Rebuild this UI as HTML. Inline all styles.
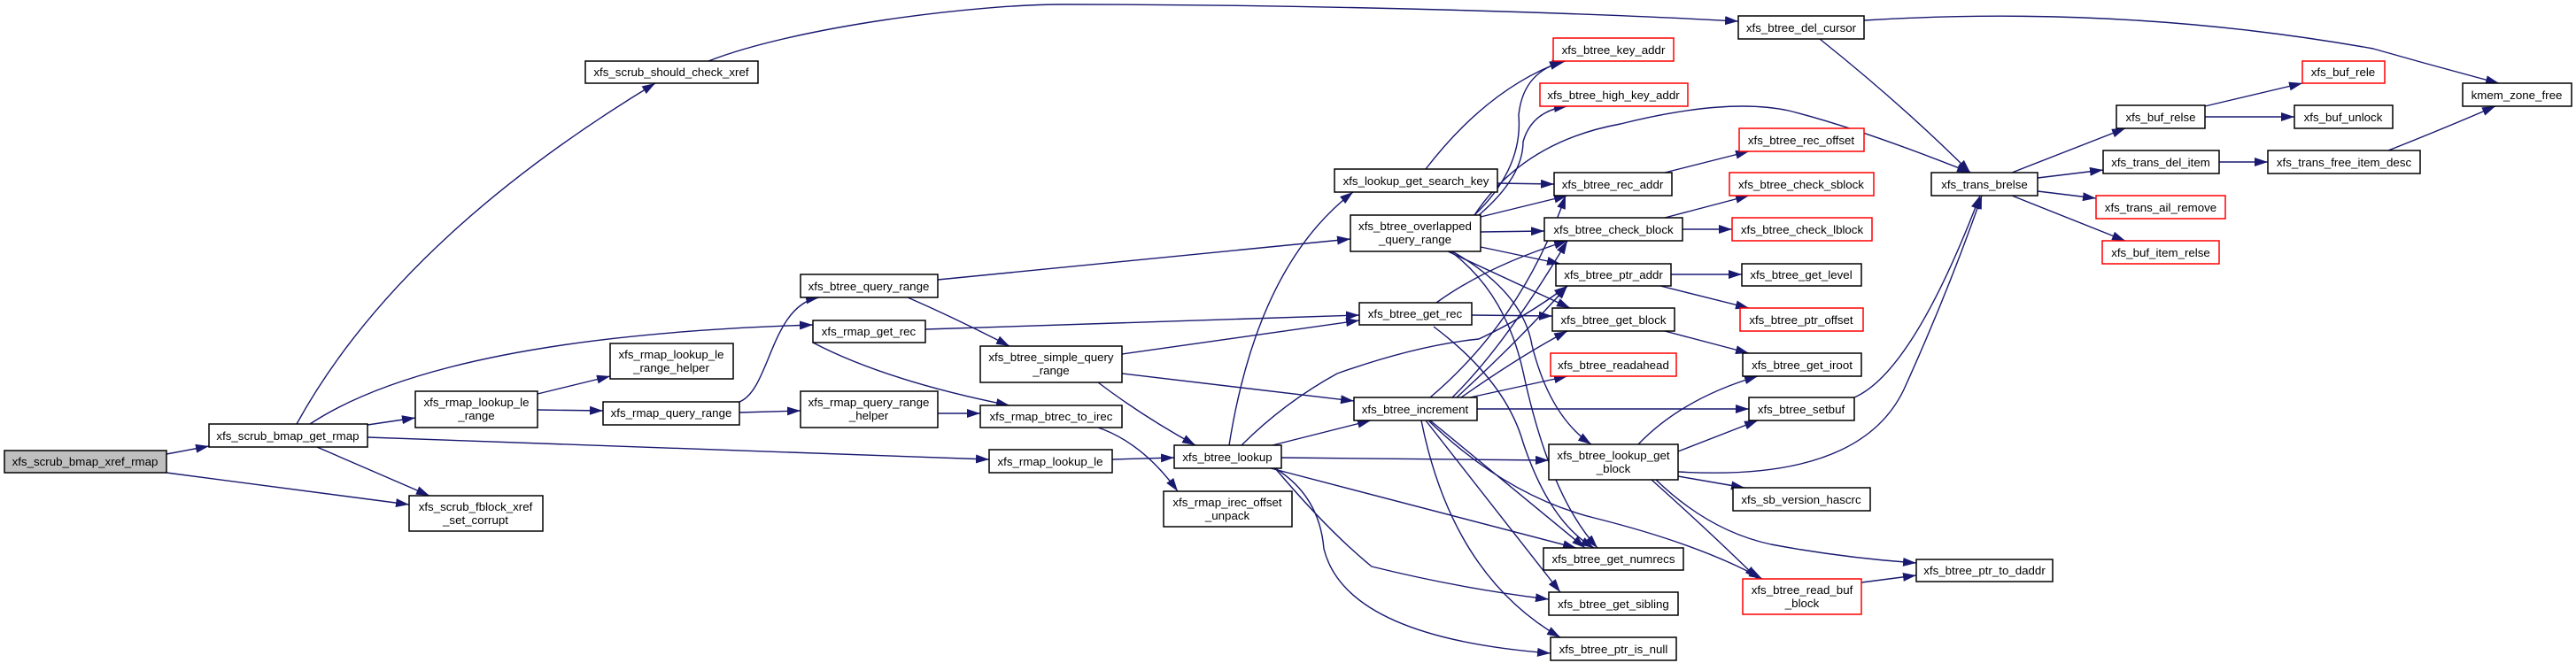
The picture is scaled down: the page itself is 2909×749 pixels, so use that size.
<!DOCTYPE html>
<html><head><meta charset="utf-8"><style>
html,body{margin:0;padding:0;background:#fff;}
svg{display:block}
text{font-family:"Liberation Sans",Arial,sans-serif;font-size:13.3px;fill:#000;text-anchor:middle}
.b{fill:#fff;stroke:#000;stroke-width:1.5}
.r{fill:#fff;stroke:#ff0000;stroke-width:1.5}
.g{fill:#bfbfbf;stroke:#000;stroke-width:1.5}
path.e{fill:none;stroke:#191970;stroke-width:1.4;marker-end:url(#a)}
</style></head><body>
<svg width="2909" height="749" viewBox="0 0 2909 749" xmlns="http://www.w3.org/2000/svg">
<defs><marker id="a" markerUnits="userSpaceOnUse" markerWidth="15" markerHeight="10" refX="15" refY="5" orient="auto"><path d="M0,0 L15,5 L0,10 z" fill="#191970"/></marker></defs>
<g>
<path class="e" d="M188,513 L236,504"/>
<path class="e" d="M188,534 L462,570"/>
<path class="e" d="M335,479 Q450,270 740,94"/>
<path class="e" d="M350,479 Q500,380 918,367"/>
<path class="e" d="M415,480 L469,472"/>
<path class="e" d="M415,494 L1117,519"/>
<path class="e" d="M358,505 L485,560"/>
<path class="e" d="M800,69 C900,30 1100,5 1200,5 C1500,5 1800,15 1963,24"/>
<path class="e" d="M607,445 L689,425"/>
<path class="e" d="M607,463 L681,464"/>
<path class="e" d="M835,454 C870,440 870,345 925,336"/>
<path class="e" d="M835,466 L904,464"/>
<path class="e" d="M1059,316 L1525,270"/>
<path class="e" d="M1025,336 Q1080,360 1140,391"/>
<path class="e" d="M1045,372 L1535,356"/>
<path class="e" d="M918,387 Q1000,430 1140,458"/>
<path class="e" d="M1059,467 L1107,467"/>
<path class="e" d="M1256,519 L1326,517"/>
<path class="e" d="M1267,400 L1535,362"/>
<path class="e" d="M1267,422 L1529,453"/>
<path class="e" d="M1240,432 Q1290,470 1350,503"/>
<path class="e" d="M1240,483 Q1290,500 1330,555"/>
<path class="e" d="M1388,503 Q1420,300 1528,217"/>
<path class="e" d="M1437,503 L1548,475"/>
<path class="e" d="M1447,517 L1749,520"/>
<path class="e" d="M1435,529 L1780,619"/>
<path class="e" d="M1440,529 Q1500,600 1549,640 Q1650,665 1749,677"/>
<path class="e" d="M1440,529 Q1490,560 1495,620 Q1520,720 1751,738"/>
<path class="e" d="M1402,503 Q1450,455 1510,422 Q1600,390 1670,383 Q1720,360 1770,323"/>
<path class="e" d="M1610,191 Q1680,100 1765,69"/>
<path class="e" d="M1691,207 L1755,208"/>
<path class="e" d="M1665,243 Q1720,190 1715,130 Q1720,80 1768,69"/>
<path class="e" d="M1670,243 Q1720,200 1720,160 Q1730,125 1770,120"/>
<path class="e" d="M1672,245 L1770,221"/>
<path class="e" d="M1672,262 L1744,261"/>
<path class="e" d="M1672,279 L1762,298"/>
<path class="e" d="M1635,284 L1773,348"/>
<path class="e" d="M1640,284 Q1720,330 1730,390 Q1750,470 1797,502"/>
<path class="e" d="M1638,284 Q1700,330 1720,420 Q1750,560 1804,619"/>
<path class="e" d="M1665,243 Q1720,160 1830,140 Q1950,110 2020,125 Q2100,145 2225,195"/>
<path class="e" d="M1622,342 Q1680,300 1770,272"/>
<path class="e" d="M1662,356 L1753,357"/>
<path class="e" d="M1619,369 Q1700,430 1720,500 Q1750,590 1800,619"/>
<path class="e" d="M1615,449 Q1720,360 1768,221"/>
<path class="e" d="M1640,449 Q1700,390 1770,272"/>
<path class="e" d="M1645,449 Q1720,380 1770,323"/>
<path class="e" d="M1650,449 Q1720,400 1770,374"/>
<path class="e" d="M1660,449 L1770,425"/>
<path class="e" d="M1668,462 L1975,462"/>
<path class="e" d="M1615,475 L1790,619"/>
<path class="e" d="M1610,475 L1762,669"/>
<path class="e" d="M1605,475 Q1640,650 1762,720"/>
<path class="e" d="M1612,474 Q1700,560 1800,585 Q1920,615 1990,654"/>
<path class="e" d="M1850,502 Q1900,450 1985,425"/>
<path class="e" d="M1895,510 L1985,475"/>
<path class="e" d="M1895,538 L1970,551"/>
<path class="e" d="M1865,542 Q1930,600 1985,654"/>
<path class="e" d="M1870,542 Q1930,600 2000,615 Q2080,630 2164,636"/>
<path class="e" d="M1895,533 Q2100,545 2150,440 Q2200,330 2238,221"/>
<path class="e" d="M1887,310 L1967,310"/>
<path class="e" d="M1875,323 L1975,348"/>
<path class="e" d="M1880,195 L1975,171"/>
<path class="e" d="M1880,246 L1975,221"/>
<path class="e" d="M1900,259 L1956,259"/>
<path class="e" d="M1880,374 L1975,399"/>
<path class="e" d="M2094,449 Q2160,420 2236,221"/>
<path class="e" d="M2102,658 L2164,650"/>
<path class="e" d="M2055,44 Q2150,120 2225,195"/>
<path class="e" d="M2105,23 Q2400,5 2680,55 Q2750,75 2822,94"/>
<path class="e" d="M2272,195 L2400,145"/>
<path class="e" d="M2301,201 L2375,192"/>
<path class="e" d="M2301,216 L2367,224"/>
<path class="e" d="M2272,221 L2400,272"/>
<path class="e" d="M2490,120 L2600,94"/>
<path class="e" d="M2490,132 L2591,132"/>
<path class="e" d="M2506,183 L2561,183"/>
<path class="e" d="M2697,170 Q2760,145 2818,120"/>
</g>
<g>
<rect class="g" x="5" y="509" width="183" height="25"/><text x="96" y="526">xfs_scrub_bmap_xref_rmap</text>
<rect class="b" x="236" y="479" width="179" height="26"/><text x="325" y="497">xfs_scrub_bmap_get_rmap</text>
<rect class="b" x="661" y="69" width="195" height="25"/><text x="758" y="86">xfs_scrub_should_check_xref</text>
<rect class="b" x="689" y="388" width="139" height="40"/><text x="758" y="405">xfs_rmap_lookup_le</text><text x="758" y="420">_range_helper</text>
<rect class="b" x="469" y="442" width="138" height="41"/><text x="538" y="459">xfs_rmap_lookup_le</text><text x="538" y="474">_range</text>
<rect class="b" x="681" y="454" width="154" height="26"/><text x="758" y="471">xfs_rmap_query_range</text>
<rect class="b" x="462" y="560" width="151" height="40"/><text x="537" y="577">xfs_scrub_fblock_xref</text><text x="537" y="592">_set_corrupt</text>
<rect class="b" x="904" y="310" width="155" height="26"/><text x="981" y="328">xfs_btree_query_range</text>
<rect class="b" x="918" y="362" width="127" height="25"/><text x="981" y="379">xfs_rmap_get_rec</text>
<rect class="b" x="904" y="442" width="155" height="41"/><text x="981" y="459">xfs_rmap_query_range</text><text x="981" y="474">_helper</text>
<rect class="b" x="1107" y="391" width="160" height="41"/><text x="1187" y="408">xfs_btree_simple_query</text><text x="1187" y="423">_range</text>
<rect class="b" x="1107" y="458" width="160" height="25"/><text x="1187" y="475">xfs_rmap_btrec_to_irec</text>
<rect class="b" x="1117" y="508" width="139" height="26"/><text x="1186" y="526">xfs_rmap_lookup_le</text>
<rect class="b" x="1326" y="503" width="121" height="26"/><text x="1386" y="521">xfs_btree_lookup</text>
<rect class="b" x="1314" y="555" width="145" height="40"/><text x="1386" y="572">xfs_rmap_irec_offset</text><text x="1386" y="587">_unpack</text>
<rect class="b" x="1507" y="191" width="184" height="26"/><text x="1599" y="209">xfs_lookup_get_search_key</text>
<rect class="b" x="1525" y="243" width="147" height="41"/><text x="1598" y="260">xfs_btree_overlapped</text><text x="1598" y="275">_query_range</text>
<rect class="b" x="1535" y="342" width="127" height="25"/><text x="1598" y="359">xfs_btree_get_rec</text>
<rect class="b" x="1529" y="449" width="139" height="26"/><text x="1598" y="467">xfs_btree_increment</text>
<rect class="r" x="1754" y="43" width="136" height="26"/><text x="1822" y="61">xfs_btree_key_addr</text>
<rect class="r" x="1739" y="94" width="167" height="26"/><text x="1822" y="112">xfs_btree_high_key_addr</text>
<rect class="b" x="1755" y="195" width="133" height="26"/><text x="1821" y="213">xfs_btree_rec_addr</text>
<rect class="b" x="1744" y="246" width="156" height="26"/><text x="1822" y="264">xfs_btree_check_block</text>
<rect class="b" x="1757" y="298" width="130" height="25"/><text x="1822" y="315">xfs_btree_ptr_addr</text>
<rect class="b" x="1753" y="348" width="138" height="26"/><text x="1822" y="366">xfs_btree_get_block</text>
<rect class="r" x="1751" y="399" width="142" height="26"/><text x="1822" y="417">xfs_btree_readahead</text>
<rect class="b" x="1749" y="502" width="146" height="40"/><text x="1822" y="519">xfs_btree_lookup_get</text><text x="1822" y="534">_block</text>
<rect class="b" x="1743" y="619" width="158" height="25"/><text x="1822" y="636">xfs_btree_get_numrecs</text>
<rect class="b" x="1749" y="669" width="146" height="26"/><text x="1822" y="687">xfs_btree_get_sibling</text>
<rect class="b" x="1751" y="720" width="142" height="26"/><text x="1822" y="738">xfs_btree_ptr_is_null</text>
<rect class="b" x="1963" y="18" width="142" height="26"/><text x="2034" y="36">xfs_btree_del_cursor</text>
<rect class="r" x="1964" y="145" width="141" height="26"/><text x="2034" y="163">xfs_btree_rec_offset</text>
<rect class="r" x="1953" y="195" width="163" height="26"/><text x="2034" y="213">xfs_btree_check_sblock</text>
<rect class="r" x="1956" y="246" width="158" height="26"/><text x="2035" y="264">xfs_btree_check_lblock</text>
<rect class="b" x="1967" y="298" width="135" height="25"/><text x="2034" y="315">xfs_btree_get_level</text>
<rect class="r" x="1965" y="348" width="139" height="26"/><text x="2034" y="366">xfs_btree_ptr_offset</text>
<rect class="b" x="1968" y="399" width="134" height="26"/><text x="2035" y="417">xfs_btree_get_iroot</text>
<rect class="b" x="1975" y="449" width="119" height="26"/><text x="2034" y="467">xfs_btree_setbuf</text>
<rect class="b" x="1957" y="551" width="155" height="26"/><text x="2034" y="569">xfs_sb_version_hascrc</text>
<rect class="r" x="1968" y="654" width="134" height="40"/><text x="2035" y="671">xfs_btree_read_buf</text><text x="2035" y="686">_block</text>
<rect class="b" x="2164" y="632" width="154" height="25"/><text x="2241" y="649">xfs_btree_ptr_to_daddr</text>
<rect class="b" x="2181" y="195" width="120" height="26"/><text x="2241" y="213">xfs_trans_brelse</text>
<rect class="b" x="2390" y="119" width="100" height="26"/><text x="2440" y="137">xfs_buf_relse</text>
<rect class="r" x="2600" y="69" width="93" height="25"/><text x="2646" y="86">xfs_buf_rele</text>
<rect class="b" x="2591" y="119" width="111" height="26"/><text x="2646" y="137">xfs_buf_unlock</text>
<rect class="b" x="2375" y="170" width="131" height="26"/><text x="2440" y="188">xfs_trans_del_item</text>
<rect class="b" x="2561" y="170" width="172" height="26"/><text x="2647" y="188">xfs_trans_free_item_desc</text>
<rect class="r" x="2367" y="221" width="146" height="26"/><text x="2440" y="239">xfs_trans_ail_remove</text>
<rect class="r" x="2374" y="272" width="132" height="26"/><text x="2440" y="290">xfs_buf_item_relse</text>
<rect class="b" x="2781" y="94" width="123" height="26"/><text x="2842" y="112">kmem_zone_free</text>
</g>
</svg>
</body></html>
